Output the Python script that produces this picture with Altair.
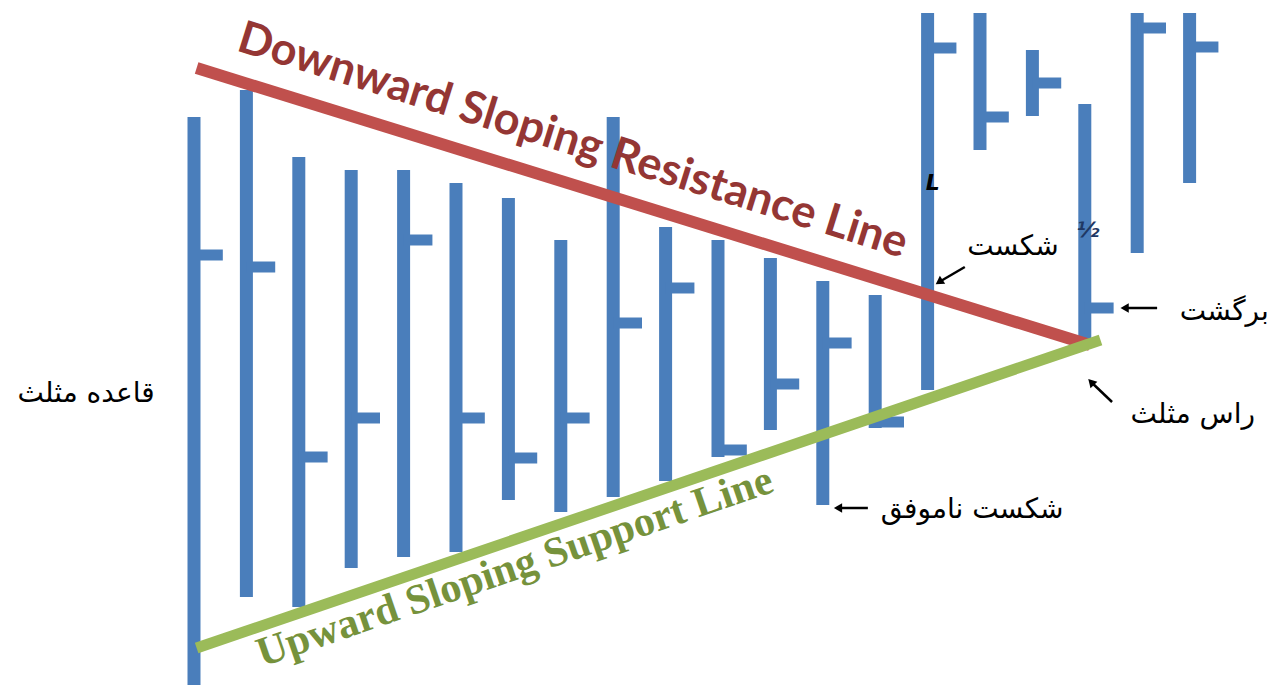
import altair as alt
import pandas as pd

# OHLC-style bars (index, high, low, close) in price units
idx = list(range(20))
high = [583, 610, 543, 530, 530, 517, 502, 460, 583, 473, 460, 442, 419, 405, 687, 687, 650, 596, 687, 687]
low = [10, 103, 93, 132, 143, 148, 200, 188, 203, 219, 243, 270, 195, 272, 310, 550, 584, 357, 447, 517]
close = [445, 433, 243, 282, 460, 282, 242, 282, 377, 412, 250, 316, 357, 278, 652, 583, 617, 392, 672, 653]

# trend lines (start / end in index, price)
line_name = ["resistance", "support"]
line_x0 = [0.05, 0.05]
line_y0 = [632, 52]
line_x1 = [17.1, 17.3]
line_y1 = [355, 360]

# persian labels
lab_text = ["قاعده مثلث", "شکست", "برگشت", "راس مثلث", "شکست ناموفق"]
lab_x = [-2.06, 15.63, 19.66, 19.06, 14.85]
lab_y = [298, 445, 380, 277, 182]

# arrows: tail -> head
arr_x0 = [18.38, 14.71, 17.52, 12.86]
arr_y0 = [392, 433, 298, 192]
arr_x1 = [17.76, 14.22, 17.12, 12.29]
arr_y1 = [392, 418, 318, 192]
arr_angle = [270, 236, 316, 270]

XD = [-3.5496, 20.5153]
YD = [15, 692]

def X(f):
    return alt.X(f, type="quantitative", scale=alt.Scale(domain=XD, nice=False, zero=False), axis=None)

def Y(f):
    return alt.Y(f, type="quantitative", scale=alt.Scale(domain=YD, nice=False, zero=False), axis=None)

bars = pd.DataFrame({"i": idx, "high": high, "low": low, "close": close})
lines = pd.DataFrame({"name": line_name, "x0": line_x0, "y0": line_y0, "x1": line_x1, "y1": line_y1})
labels = pd.DataFrame({"t": lab_text, "x": lab_x, "y": lab_y})
arrows = pd.DataFrame({"x0": arr_x0, "y0": arr_y0, "x1": arr_x1, "y1": arr_y1, "a": arr_angle})

BLUE = "#4A7EBB"

hl = alt.Chart(bars).mark_rule(color=BLUE, strokeWidth=13).encode(
    x=X("i"), y=Y("high"), y2="low")
ticks = alt.Chart(bars).transform_calculate(i2="datum.i + 0.55").mark_rule(
    color=BLUE, strokeWidth=11).encode(x=X("i"), x2="i2:Q", y=Y("close"))

res = alt.Chart(lines).transform_filter("datum.name == 'resistance'").mark_rule(
    color="#C0504D", strokeWidth=12).encode(x=X("x0"), x2="x1", y=Y("y0"), y2="y1")
sup = alt.Chart(lines).transform_filter("datum.name == 'support'").mark_rule(
    color="#9BBB59", strokeWidth=11).encode(x=X("x0"), x2="x1", y=Y("y0"), y2="y1")

res_txt = alt.Chart(pd.DataFrame({"t": ["Downward Sloping Resistance Line"], "x": [7.15], "y": [546]})).mark_text(
    angle=17.3, fontSize=45, font="Lato", fontWeight="bold", color="#943634", align="center", baseline="alphabetic"
).encode(x=X("x"), y=Y("y"), text="t:N")
sup_txt = alt.Chart(pd.DataFrame({"t": ["Upward Sloping Support Line"], "x": [6.2], "y": [121]})).mark_text(
    angle=341.1, fontSize=42, font="Liberation Serif", fontWeight="bold", color="#76923C", align="center", baseline="alphabetic"
).encode(x=X("x"), y=Y("y"), text="t:N")

lab = alt.Chart(labels).mark_text(font="DejaVu Sans", fontSize=28, color="black", align="center", baseline="alphabetic").encode(
    x=X("x"), y=Y("y"), text="t:N")

arr_line = alt.Chart(arrows).mark_rule(color="black", strokeWidth=2.5).encode(
    x=X("x0"), x2="x1", y=Y("y0"), y2="y1")
arr_head = alt.Chart(arrows).mark_point(shape="triangle-up", filled=True, color="black", size=90, opacity=1).encode(
    x=X("x1"), y=Y("y1"), angle=alt.Angle("a:Q", scale=None))

glyphs = alt.Chart(pd.DataFrame({"t": ["L", "½"], "x": [14.1, 17.06], "y": [517, 470], "c": ["black", "#1F3864"]})).mark_text(
    font="DejaVu Sans", fontSize=22, fontStyle="italic", fontWeight="bold", align="center", baseline="middle"
).encode(x=X("x"), y=Y("y"), text="t:N", color=alt.Color("c:N", scale=None))

chart = alt.layer(hl, ticks, res, sup, res_txt, sup_txt, lab, arr_line, arr_head, glyphs).properties(
    width=1261, height=677, padding=0, autosize="none", background="white"
).configure_view(stroke=None)

chart.save("out.html", embed_options={"renderer": "svg", "actions": False})
